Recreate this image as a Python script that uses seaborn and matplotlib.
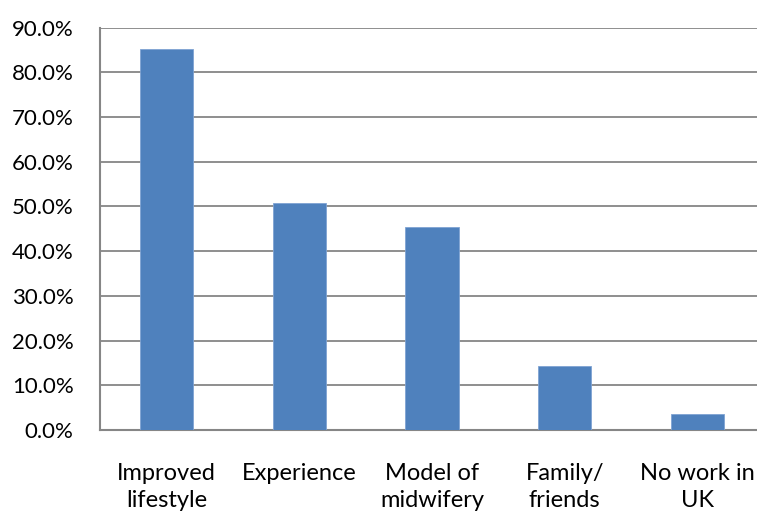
import matplotlib
matplotlib.use("Agg")
import matplotlib.pyplot as plt
import seaborn as sns
import pandas as pd
from matplotlib.ticker import PercentFormatter

categories = ["Improved\nlifestyle", "Experience", "Model of\nmidwifery", "Family/\nfriends", "No work in\nUK"]
values = [85.2, 50.8, 45.5, 14.3, 3.6]
y_ticks = [0, 10, 20, 30, 40, 50, 60, 70, 80, 90]

sns.set_theme(style="white")
plt.rcParams["font.family"] = ["Lato", "DejaVu Sans"]

df = pd.DataFrame({"reason": categories, "pct": values})

fig = plt.figure(figsize=(7.57, 5.13), dpi=100)
ax = fig.add_axes([100 / 757, 1 - 430 / 513, 664 / 757, (430 - 27.5) / 513])

grid_color = "#868686"
sns.barplot(data=df, x="reason", y="pct", color="#4F81BD", saturation=1,
            width=0.4, ax=ax, zorder=3, edgecolor="#7FA3D3", linewidth=0.6)

ax.set_ylim(0, 90)
ax.set_yticks(y_ticks)
ax.yaxis.set_major_formatter(PercentFormatter(decimals=1))
ax.grid(axis="y", color=grid_color, linewidth=1.3, zorder=0)
ax.set_axisbelow(True)
for side in ["top", "right"]:
    ax.spines[side].set_visible(False)
for side in ["left", "bottom"]:
    ax.spines[side].set_color(grid_color)
    ax.spines[side].set_linewidth(1.5)
ax.set_xlabel("")
ax.set_ylabel("")
ax.tick_params(axis="y", length=0, pad=19, labelsize=16, labelcolor="black")
ax.tick_params(axis="x", length=0, pad=24, labelsize=17, labelcolor="black")
for lbl in ax.get_xticklabels():
    lbl.set_linespacing(1.35)

fig.savefig("out.png", dpi=100, facecolor="white")
